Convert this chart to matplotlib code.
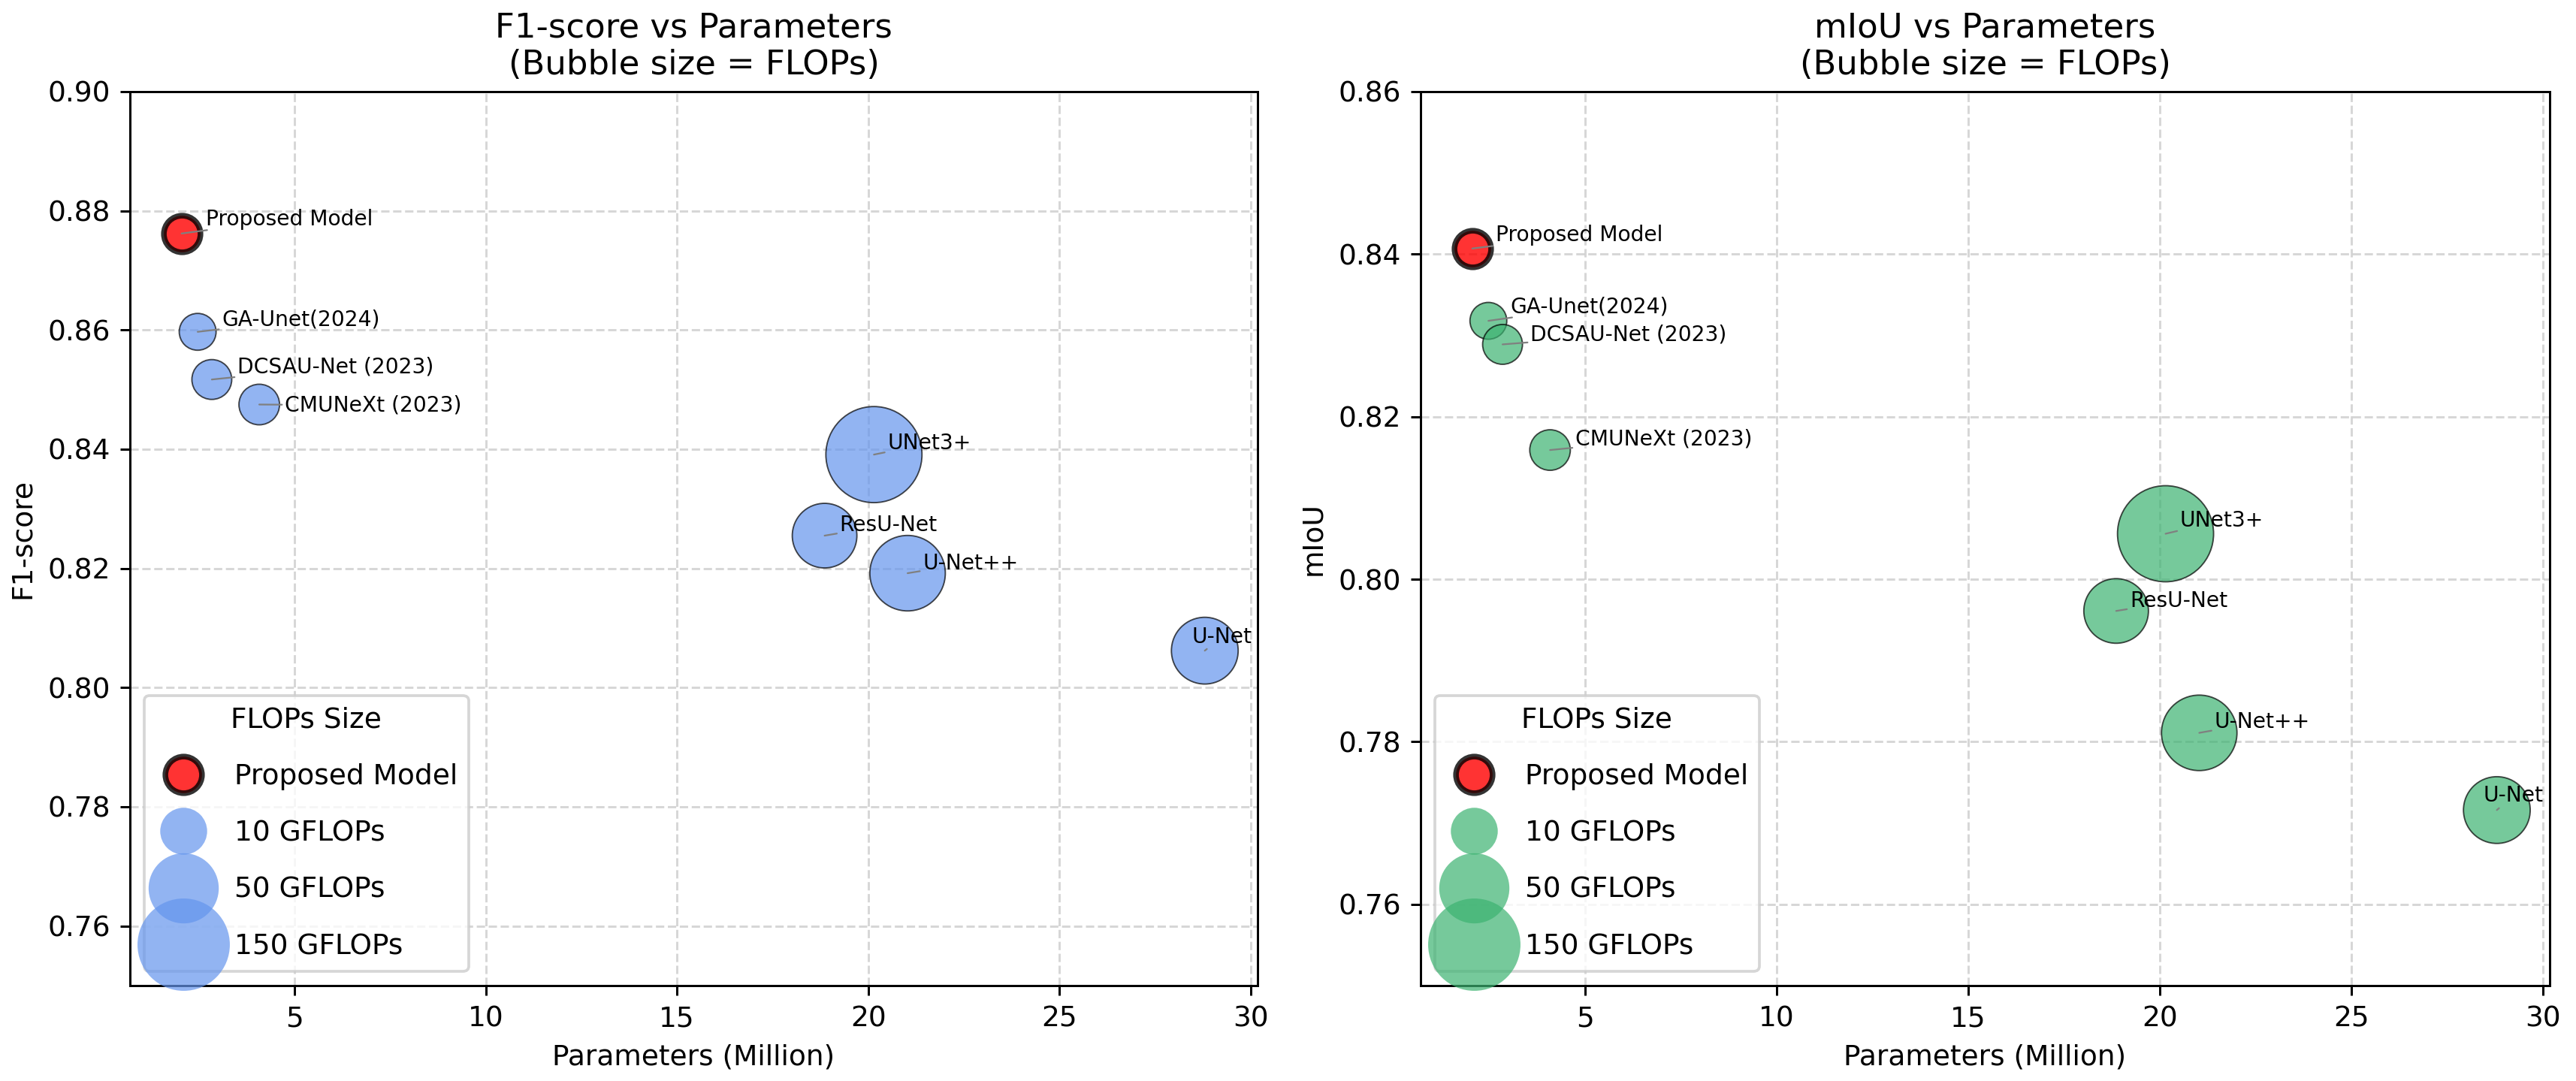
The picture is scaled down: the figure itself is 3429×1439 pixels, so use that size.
import numpy as np
import matplotlib
matplotlib.use("Agg")
import matplotlib.pyplot as plt

# ---------------- data ----------------
models = ["Proposed Model", "GA-Unet(2024)", "DCSAU-Net (2023)", "CMUNeXt (2023)",
          "UNet3+", "ResU-Net", "U-Net++", "U-Net"]
params = [2.05, 2.47, 2.84, 4.08, 20.15, 18.86, 21.03, 28.80]          # Million
flops = [3.7, 3.8, 5.2, 5.6, 176.0, 36.0, 67.0, 41.0]                  # GFLOPs
f1_scores = [0.8762, 0.8597, 0.8517, 0.8475, 0.8391, 0.8255, 0.8192, 0.8062]
miou_scores = [0.8407, 0.8318, 0.8289, 0.8159, 0.8056, 0.7961, 0.7811, 0.7716]
legend_flops = [10, 50, 150]

# label offsets (pixels) from each bubble centre
f1_offsets = [(32, 11), (32, 8), (34, 9), (34, -9), (18, 7), (20, 6.5), (20, 5.5), (-17, 10.6)]
miou_offsets = [(31, 9.5), (29, 11), (37, 5), (33.5, 7), (19, 9.5), (18, 5.5), (20, 7), (-18, 11)]

DPI = 270
SIZE_K = 87.7   # marker area (pt^2) per sqrt(GFLOPs)

fig = plt.figure(figsize=(3429 / DPI, 1439 / DPI), dpi=DPI)
ax1 = fig.add_axes([0.05045, 0.08826, 0.43774, 0.82696])
ax2 = fig.add_axes([0.55147, 0.08826, 0.43832, 0.82696])


def draw(ax, yvals, color, title, ylabel, ylim, offsets):
    ax.set_axisbelow(True)
    ax.grid(True, linestyle="--", alpha=0.5)
    sizes = SIZE_K * np.sqrt(np.array(flops))
    ax.scatter(params[1:], yvals[1:], s=sizes[1:], color=color, alpha=0.7,
               edgecolors="black", linewidths=0.5, zorder=2)
    ax.scatter(params[:1], yvals[:1], s=sizes[:1], color="red", alpha=0.8,
               edgecolors="black", linewidths=2, zorder=3)
    for name, x, y, (dx, dy) in zip(models, params, yvals, offsets):
        ax.annotate(name, (x, y), xytext=(dx, dy), textcoords="offset pixels",
                    fontsize=7.5, ha="left", va="baseline", zorder=5,
                    bbox=dict(boxstyle="square,pad=0", fc="none", ec="none"),
                    arrowprops=dict(arrowstyle="-", color="gray", lw=0.6,
                                    shrinkA=1, shrinkB=0))
    handles = [ax.scatter([], [], s=sizes[0], color="red", alpha=0.8,
                          edgecolors="black", linewidths=2, label="Proposed Model")]
    for f in legend_flops:
        handles.append(ax.scatter([], [], s=SIZE_K * np.sqrt(f), color=color,
                                  alpha=0.7, linewidths=0, label=f"{f} GFLOPs"))
    ax.legend(handles=handles, title="FLOPs Size", loc="lower left",
              labelspacing=1.05, fontsize=10, title_fontsize=10,
              scatterpoints=1, scatteryoffsets=[0.5])
    ax.set_xlim(0.70, 30.18)
    ax.set_ylim(*ylim)
    ax.set_xlabel("Parameters (Million)")
    ax.set_ylabel(ylabel)
    ax.set_title(title)


draw(ax1, f1_scores, "cornflowerblue", "F1-score vs Parameters\n(Bubble size = FLOPs)",
     "F1-score", (0.75, 0.90), f1_offsets)
draw(ax2, miou_scores, "mediumseagreen", "mIoU vs Parameters\n(Bubble size = FLOPs)",
     "mIoU", (0.75, 0.86), miou_offsets)

fig.savefig("out.png", dpi=DPI)
